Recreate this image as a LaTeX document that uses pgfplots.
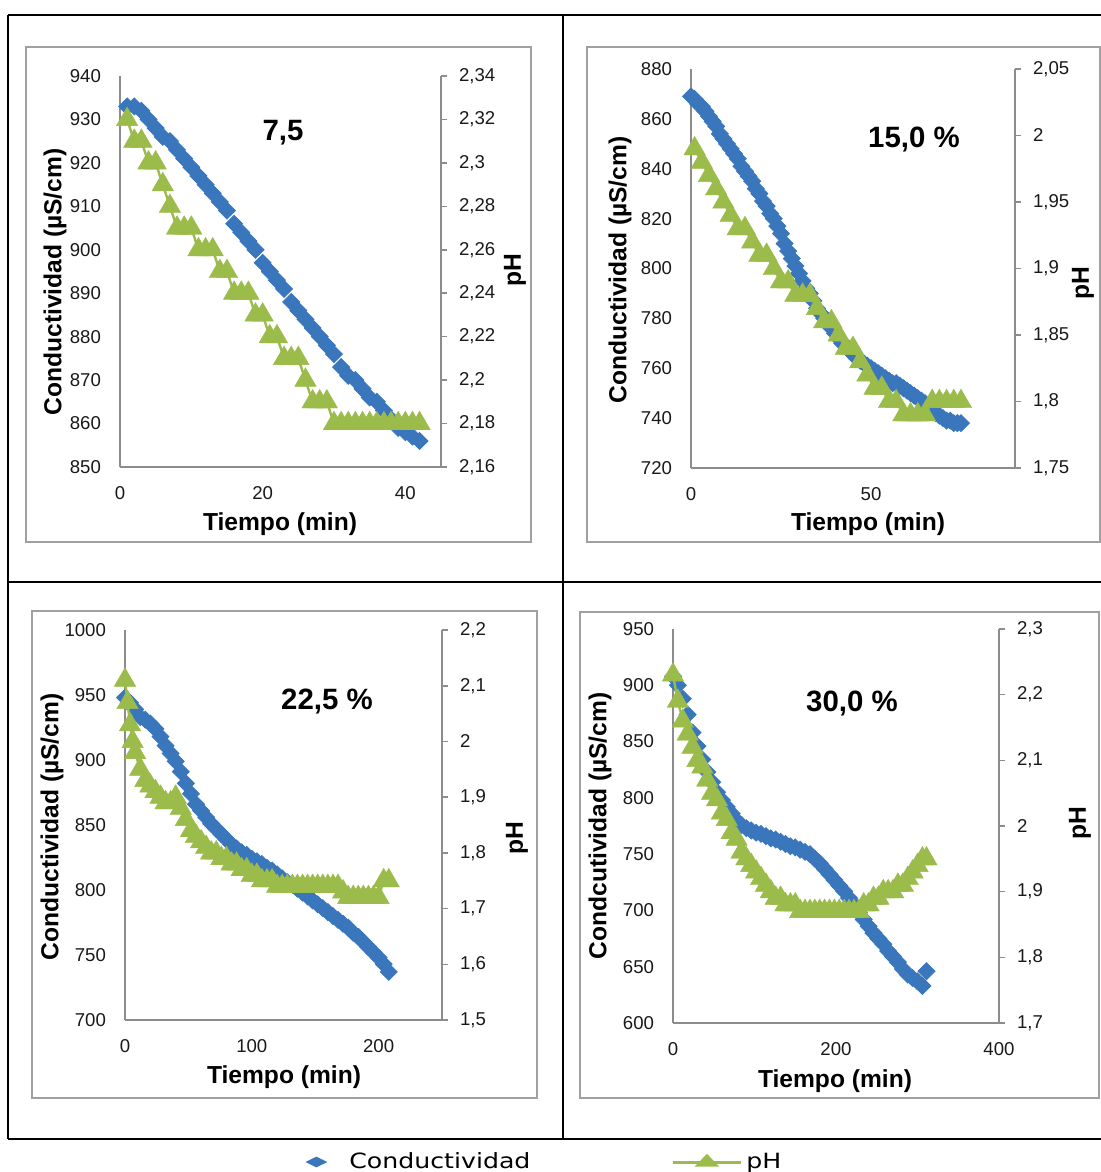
\documentclass[border=0pt]{standalone}
\usepackage{fontspec}
\setmainfont{Liberation Sans}
\newfontfamily\legfont[FakeStretch=1.2]{DejaVu Sans}
\usepackage{pgfplots}
\pgfplotsset{compat=1.18}
\definecolor{cblue}{RGB}{58,118,188}
\definecolor{cgreen}{RGB}{155,187,75}
\definecolor{axgray}{RGB}{140,140,140}
\definecolor{boxgray}{RGB}{160,160,160}
\newcommand\labfont{\bfseries\fontsize{12.3}{14}\selectfont}
\newcommand\titfont{\bfseries\fontsize{14.7}{17}\selectfont}
\pgfplotsset{
 every non boxed x axis/.style={},
 every non boxed y axis/.style={},
 base/.style={scale only axis, clip=false, anchor=south west,
   /pgf/number format/assume math mode=true,
   /pgf/number format/use comma, /pgf/number format/1000 sep={},
   tick label style={font=\fontsize{9.3}{11}\selectfont, text=black!90},
   axis line style={axgray, line width=0.8pt, -},
 },
 leftax/.style={base, axis x line*=bottom, axis y line*=left,
   ytick style={draw=none}, xtick style={draw=none},
   yticklabel style={xshift=-6pt}, xticklabel style={yshift=-6pt}},
 rightax/.style={base, axis x line=none, axis y line*=right,
   ytick align=outside, major tick length=3pt,
   ytick style={axgray, line width=0.8pt}, yticklabel style={xshift=2.5pt},
   /pgf/number format/fixed, /pgf/number format/precision=2},
 cond/.style={only marks, mark=square*, mark size=3.0pt,
   mark options={rotate=45, fill=cblue, draw=cblue}, color=cblue},
 ph/.style={color=cgreen, line width=1.2pt, mark=triangle*, mark size=6.2pt,
   mark options={fill=cgreen, draw=cgreen, line width=0.2pt}},
 phleg/.style={legend image code/.code={\draw[mark repeat=2, mark phase=2, ##1] plot coordinates {(0pt,0pt) (17pt,0pt) (34pt,0pt)};}},
 condleg/.style={legend image code/.code={\path[draw=none, fill=none] (0pt,0pt) -- (23pt,0pt); \draw[##1, draw=none] plot coordinates {(8.5pt,0pt)};}},
}
\begin{document}
\begin{tikzpicture}
\useasboundingbox (0pt,0pt) rectangle (550.5pt,-586pt);
% ---------- Panel 1 : 7,5 ----------
\begin{axis}[leftax, at={(60pt,-233.5pt)}, width=160.5pt, height=195.5pt,
  xmin=0, xmax=45, ymin=850, ymax=940, xtick={0,20,40}, ytick={850,860,...,940}]
\addplot[cond] table {
1 933
2 933
3 932
4 930
5 928
6 926
7 925
8 923
9 921
10 919
11 917
12 915
13 913
14 911
15 909
16 906
17 904
18 902
19 900
20 897
21 895
22 893
23 891
24 888
25 886
26 884
27 882
28 880
29 878
30 876
31 873
32 871
33 870
34 868
35 866
36 865
37 863
38 861
39 859
40 858
41 857
42 856
};
\end{axis}
\begin{axis}[rightax, at={(60pt,-233.5pt)}, width=160.5pt, height=195.5pt,
  xmin=0, xmax=45, ymin=2.16, ymax=2.34,
  ytick={2.16,2.18,2.2,2.22,2.24,2.26,2.28,2.3,2.32,2.34}]
\addplot[ph] table {
1 2.32
2 2.31
3 2.31
4 2.30
5 2.30
6 2.29
7 2.28
8 2.27
9 2.27
10 2.27
11 2.26
12 2.26
13 2.26
14 2.25
15 2.25
16 2.24
17 2.24
18 2.24
19 2.23
20 2.23
21 2.22
22 2.22
23 2.21
24 2.21
25 2.21
26 2.20
27 2.19
28 2.19
29 2.19
30 2.18
31 2.18
32 2.18
33 2.18
34 2.18
35 2.18
36 2.18
37 2.18
38 2.18
39 2.18
40 2.18
41 2.18
42 2.18
};
\end{axis}
% ---------- Panel 2 : 15,0 % ----------
\begin{axis}[leftax, at={(345.5pt,-234pt)}, width=162pt, height=199.5pt,
  xmin=0, xmax=90, ymin=720, ymax=880, xtick={0,50}, ytick={720,740,...,880}]
\addplot[cond] table {
0 869
1 868
2 866
3 865
4 863
5 861
6 859
7 857
8 854
9 852
10 850
11 848
12 846
13 844
14 841
15 839
16 837
17 835
18 832
19 830
20 827
21 825
22 822
23 820
24 817
25 814
26 810
27 807
28 804
29 801
30 798
31 795
32 792
33 790
34 787
35 784
36 782
37 780
38 778
39 776
40 774
41 772
42 770
43 769
44 767
45 766
46 764
47 763
48 762
49 761
50 760
51 759
52 758
53 757
54 756
55 755
56 754
57 754
58 753
59 752
60 751
61 750
62 749
63 748
64 747
65 746
66 744
67 743
68 742
69 741
70 740
71 739
72 739
73 738
74 738
75 738
};
\end{axis}
\begin{axis}[rightax, at={(345.5pt,-234pt)}, width=162pt, height=199.5pt,
  xmin=0, xmax=90, ymin=1.75, ymax=2.05,
  ytick={1.75,1.8,1.85,1.9,1.95,2,2.05}]
\addplot[ph] table {
1 1.99
3 1.98
5 1.97
7 1.96
9 1.95
11 1.94
13 1.93
15 1.93
17 1.92
19 1.91
21 1.91
23 1.90
25 1.89
27 1.89
29 1.88
31 1.88
33 1.88
35 1.87
37 1.86
39 1.86
41 1.85
43 1.84
45 1.84
47 1.83
49 1.82
51 1.81
53 1.81
55 1.80
57 1.80
59 1.79
61 1.79
63 1.79
65 1.79
67 1.80
69 1.80
71 1.80
73 1.80
75 1.80
};
\end{axis}
% ---------- Panel 3 : 22,5 % ----------
\begin{axis}[leftax, at={(62.5pt,-510pt)}, width=158.5pt, height=195pt,
  xmin=0, xmax=250, ymin=700, ymax=1000, xtick={0,100,200}, ytick={700,750,...,1000}]
\addplot[cond] table {
0 948
4 944
8 939
12 933
16 931
20 928
24 924
28 918
32 911
36 905
40 899
44 891
48 882
52 874
56 866
60 861
64 856
68 851
72 847
76 843
80 839
84 835
88 832
92 829
96 827
100 824
104 822
108 820
112 817
116 815
120 812
124 809
128 806
132 804
136 801
140 798
144 795
148 792
152 789
156 786
160 783
164 780
168 777
172 774
176 771
180 767
184 764
188 760
192 756
196 752
200 748
204 743
208 737
};
\end{axis}
\begin{axis}[rightax, at={(62.5pt,-510pt)}, width=158.5pt, height=195pt,
  xmin=0, xmax=250, ymin=1.5, ymax=2.2,
  ytick={1.5,1.6,1.7,1.8,1.9,2,2.1,2.2}]
\addplot[ph] table {
0 2.11
2 2.07
4 2.03
6 2.00
8 1.98
12 1.95
16 1.93
20 1.92
24 1.91
28 1.90
32 1.89
36 1.89
40 1.90
44 1.88
48 1.86
52 1.84
56 1.83
60 1.82
64 1.81
68 1.80
72 1.80
76 1.79
80 1.79
84 1.78
88 1.78
92 1.77
96 1.77
100 1.76
104 1.76
108 1.75
112 1.75
116 1.75
120 1.74
124 1.74
128 1.74
132 1.74
136 1.74
140 1.74
144 1.74
148 1.74
152 1.74
156 1.74
160 1.74
164 1.74
168 1.74
172 1.73
176 1.72
180 1.72
184 1.72
188 1.72
192 1.72
196 1.72
200 1.72
204 1.75
208 1.75
};
\end{axis}
% ---------- Panel 4 : 30,0 % ----------
\begin{axis}[leftax, at={(336.5pt,-511.5pt)}, width=163pt, height=197pt,
  xmin=0, xmax=400, ymin=600, ymax=950, xtick={0,200,400}, ytick={600,650,...,950}]
\addplot[cond] table {
0 908
6 900
12 888
18 874
24 858
30 846
36 834
42 823
48 814
54 805
60 798
66 792
72 786
78 780
84 776
90 773
96 771
102 769
108 768
114 766
120 764
126 763
132 761
138 759
144 757
150 756
156 754
162 752
168 750
174 746
180 742
186 737
192 732
198 727
204 722
210 717
216 711
222 705
228 698
234 692
240 686
246 680
252 675
258 670
264 664
270 659
276 654
282 648
288 643
294 640
300 637
306 633
311 646
};
\end{axis}
\begin{axis}[rightax, at={(336.5pt,-511.5pt)}, width=163pt, height=197pt,
  xmin=0, xmax=400, ymin=1.7, ymax=2.3,
  ytick={1.7,1.8,1.9,2,2.1,2.2,2.3}]
\addplot[ph] table {
0 2.23
6 2.19
12 2.16
18 2.14
24 2.12
30 2.10
36 2.09
42 2.07
48 2.05
54 2.04
60 2.02
66 2.01
72 1.99
78 1.98
84 1.96
90 1.95
96 1.94
102 1.93
108 1.92
114 1.91
120 1.90
126 1.89
132 1.89
138 1.88
144 1.88
150 1.88
156 1.87
162 1.87
168 1.87
174 1.87
180 1.87
186 1.87
192 1.87
198 1.87
204 1.87
210 1.87
216 1.87
222 1.87
228 1.87
234 1.88
240 1.88
246 1.89
252 1.89
258 1.90
264 1.90
270 1.90
276 1.91
282 1.91
288 1.92
294 1.93
300 1.94
306 1.95
311 1.95
};
\end{axis}
% ---------- legend ----------
\begin{axis}[hide axis, scale only axis, anchor=south west, at={(146.5pt,-581.5pt)},
  width=1pt, height=1pt, xmin=0, xmax=1, ymin=0, ymax=1,
  legend style={at={(0,0.5)}, anchor=west, draw=none, fill=none,
    legend columns=2, font=\legfont\fontsize{10.5}{13}\selectfont,
    /tikz/every even column/.append style={column sep=68.5pt}}]
\addlegendimage{only marks, mark=diamond*, mark size=5pt, color=cblue,
  mark options={fill=cblue, draw=cblue, yscale=0.65, rotate=90}, condleg}
\addlegendentry{Conductividad}
\addlegendimage{color=cgreen, line width=1.5pt, mark=triangle*, mark size=5pt,
  mark options={fill=cgreen, draw=cgreen, yscale=0.6}, phleg}
\addlegendentry{pH}
\end{axis}
% ---------- frames, labels ----------
\begin{scope}[x=0.5pt, y=-0.5pt]
\draw[boxgray, line width=0.75pt] (26,47) rectangle (531,542);
\draw[boxgray, line width=0.75pt] (587,47) rectangle (1100,542);
\draw[boxgray, line width=0.75pt] (32,611) rectangle (537,1098);
\draw[boxgray, line width=0.75pt] (580,612) rectangle (1099,1098);
\draw[black, line width=1pt] (8,15) -- (1101,15);
\draw[black, line width=1pt] (8,582) -- (1101,582);
\draw[black, line width=1pt] (8,1139) -- (1101,1139);
\draw[black, line width=1pt] (8,15) -- (8,1139);
\draw[black, line width=1pt] (563,15) -- (563,1139);
% y labels
\node[rotate=90, font=\labfont] at (55,282) {Conductividad (µS/cm)};
\node[rotate=90, font=\labfont] at (620,270) {Conductividad (µS/cm)};
\node[rotate=90, font=\labfont] at (52,827) {Conductividad (µS/cm)};
\node[rotate=90, font=\labfont] at (600,826) {Condcutividad (µS/cm)};
\node[rotate=90, font=\labfont] at (515,270) {pH};
\node[rotate=90, font=\labfont] at (1083,283) {pH};
\node[rotate=90, font=\labfont] at (517,838) {pH};
\node[rotate=90, font=\labfont] at (1080,823) {pH};
% x labels
\node[font=\labfont] at (280,524) {Tiempo (min)};
\node[font=\labfont] at (868,524) {Tiempo (min)};
\node[font=\labfont] at (284,1077) {Tiempo (min)};
\node[font=\labfont] at (835,1081) {Tiempo (min)};
% titles
\node[font=\titfont] at (283,133) {7,5};
\node[font=\titfont] at (914,140) {15,0 \%};
\node[font=\titfont] at (327,702) {22,5 \%};
\node[font=\titfont] at (852,704) {30,0 \%};
\end{scope}
\end{tikzpicture}
\end{document}
